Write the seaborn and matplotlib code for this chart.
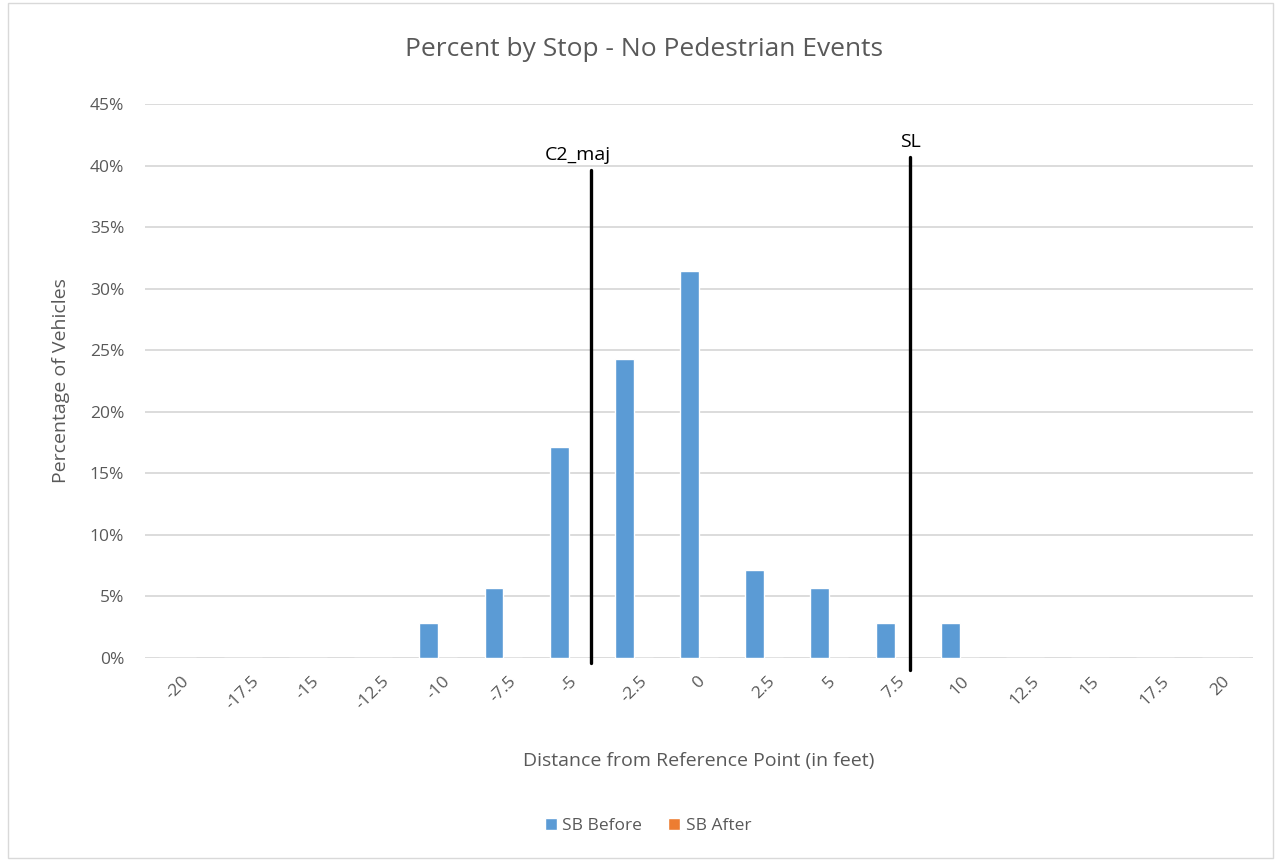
import numpy as np
import pandas as pd
import matplotlib.pyplot as plt
import seaborn as sns
from matplotlib.patches import Rectangle

distances = ['-20', '-17.5', '-15', '-12.5', '-10', '-7.5', '-5', '-2.5', '0',
             '2.5', '5', '7.5', '10', '12.5', '15', '17.5', '20']
sb_before = [0, 0, 0, 0, 2.86, 5.71, 17.14, 24.29, 31.43,
             7.14, 5.71, 2.86, 2.86, 0, 0, 0, 0]
sb_after = [0] * 17
series_names = ['SB Before', 'SB After']

# reference lines (in feet)
line_labels = ['C2_maj', 'SL']
line_feet = [-4.15, 8.1]

df = pd.DataFrame({
    'Distance': distances * 2,
    'Percent': sb_before + sb_after,
    'Series': [series_names[0]] * 17 + [series_names[1]] * 17,
})

sns.set_style('white')
plt.rcParams['font.family'] = ['Open Sans', 'DejaVu Sans']

fig = plt.figure(figsize=(12.81, 8.6), dpi=100)
ax = fig.add_axes([145 / 1281, 1 - 658 / 860, 1108 / 1281, 554 / 860])

sns.barplot(data=df, x='Distance', y='Percent', hue='Series', order=distances,
            hue_order=series_names, palette=['#5B9BD5', '#ED7D31'], saturation=1,
            width=0.58, ax=ax, legend=True)

ax.set_xlim(-0.5, len(distances) - 0.5)
ax.set_ylim(0, 45)
ax.set_yticks(np.arange(0, 46, 5))
ax.set_yticklabels([f'{v}%' for v in range(0, 46, 5)], color='#595959', fontsize=12.5)
ax.set_xticks(range(len(distances)))
ax.set_xticklabels(distances, rotation=45, color='#595959', fontsize=12.5)
ax.tick_params(axis='y', length=0, pad=15)
ax.tick_params(axis='x', length=0, pad=11)
ax.yaxis.grid(True, color='#D9D9D9', linewidth=1.3)
ax.set_axisbelow(True)
for s in ax.spines.values():
    s.set_visible(False)

ax.set_xlabel('Distance from Reference Point (in feet)', fontsize=14, color='#595959', labelpad=28)
ax.set_ylabel('Percentage of Vehicles', fontsize=14, color='#595959', labelpad=14)

# vertical markers
tops = [39.6, 40.7]
bottoms = [-0.4, -1.0]
for lab, ft, top, bot in zip(line_labels, line_feet, tops, bottoms):
    xi = (ft + 20) / 2.5
    ax.plot([xi, xi], [bot, top], color='black', linewidth=2.4, clip_on=False, zorder=5)
    ax.text(xi - (0.2 if lab == 'C2_maj' else 0), top + 0.5, lab, ha='center', va='bottom',
            fontsize=14, color='black')

fig.text(0.503, 1 - 49 / 860, 'Percent by Stop - No Pedestrian Events', ha='center', va='center',
         fontsize=19, color='#595959')

handles, labels = ax.get_legend_handles_labels()
ax.legend_.remove()
fig.legend(handles, labels, loc='center', bbox_to_anchor=(648 / 1281, 1 - 826 / 860), ncol=2,
           frameon=False, fontsize=12.5, handlelength=0.7, handleheight=0.7, columnspacing=1.5,
           handletextpad=0.3, labelcolor='#595959')

fig.patches.append(Rectangle((8 / 1281, 0.002), 1 - 16 / 1281, 0.995, transform=fig.transFigure,
                             fill=False, edgecolor='#D9D9D9', linewidth=1))

fig.savefig('out.png', dpi=100)
